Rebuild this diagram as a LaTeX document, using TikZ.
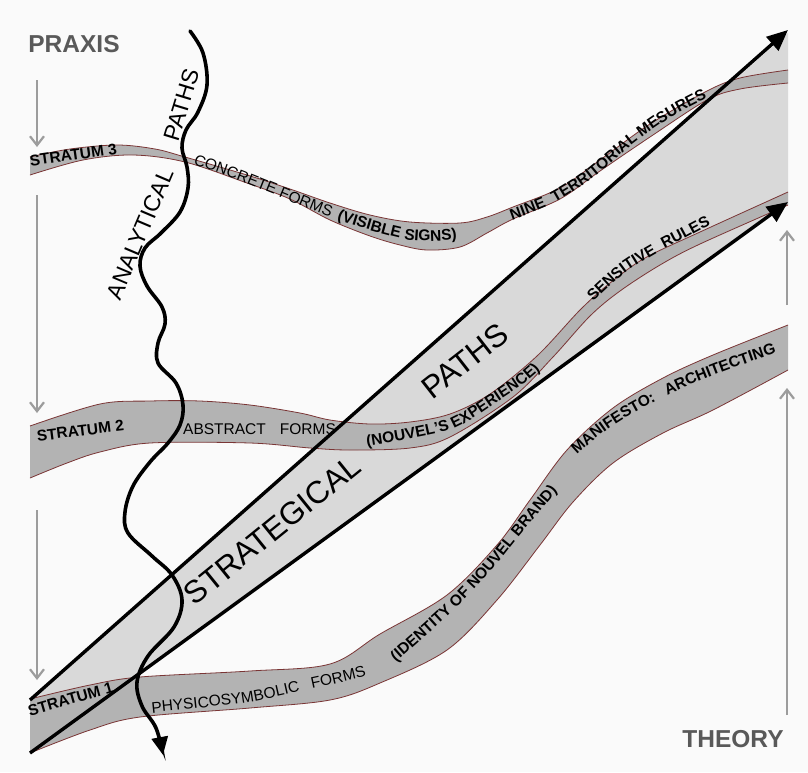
\documentclass[tikz,border=0pt]{standalone}
\usepackage{fontspec}
\setmainfont{Liberation Sans}
\usetikzlibrary{arrows.meta,decorations.text}
\definecolor{bg}{HTML}{FAFAFA}
\definecolor{bandgray}{HTML}{B3B3B3}
\definecolor{stratfill}{HTML}{D9D9D9}
\definecolor{bandedge}{HTML}{7A3535}
\definecolor{sidegray}{HTML}{9C9C9C}
\definecolor{titlegray}{HTML}{595959}
\newcommand\bandfont{\fontsize{15.5}{18}\selectfont}
\newcommand\drawband[2]{%
  \fill[bandgray] plot[smooth,tension=0.55] coordinates {#1} -- plot[smooth,tension=0.55] coordinates {#2} -- cycle;
  \draw[bandline] plot[smooth,tension=0.55] coordinates {#1};
  \draw[bandline] plot[smooth,tension=0.55] coordinates {#2};}
\begin{document}
\begin{tikzpicture}[x=1pt,y=-1pt,
  bandline/.style={draw=bandedge,line width=0.8pt},
  bigarrow/.style={line width=3.4pt,-{Triangle[length=21pt,width=18pt]}},
  wavy/.style={line width=3.6pt,line cap=round,-{Triangle[length=18pt,width=16pt]}},
  sidearrow/.style={draw=sidegray,line width=2.8pt,-{Straight Barb[length=9pt,width=14pt,line width=2.2pt]}},
  title/.style={font=\fontsize{24.5}{28}\selectfont\bfseries,text=titlegray,inner sep=0pt},
  stratum/.style={font=\bandfont\bfseries,inner sep=0pt,anchor=base},
  analytic/.style={font=\fontsize{23}{27}\selectfont,inner sep=0pt},
  strat/.style={font=\fontsize{31.5}{36}\selectfont,inner sep=0pt},
  curvelabel/.style={decorate,decoration={text along path,text align=left,text={#1}}}
]
\useasboundingbox (0,0) rectangle (808,772);
\fill[bg] (0,0) rectangle (808,772);

% strategic strip
\coordinate (su0) at (30,700);
\coordinate (su1) at (788,30);
\coordinate (sl0) at (30,753);
\coordinate (sl1) at (788,202);
\fill[stratfill] (su0) -- (788,33) -- (788,204) -- (sl0) -- cycle;

% stratum 3
\drawband{(30,157) (70,149) (117,145) (155,149) (185,157) (247,175) (290,189) (330,203) (370,215) (410,222) (460,223) (487,217) (513,207) (560,188) (600,160) (650,124) (707,91) (740,78) (788,70)}
{(788,83) (740,89) (707,100) (650,137) (600,171) (560,199) (513,219) (487,233) (460,247) (427,250) (400,245) (370,236) (330,220) (290,199) (247,183) (185,162) (133,155) (83,160) (30,175)}

% stratum 2
\drawband{(30,426) (100,404) (150,401) (200,401) (250,405) (300,413) (330,420) (370,424) (410,422) (450,414) (490,394) (537,356) (580,310) (610,283) (645,258) (700,232) (788,192)}
{(788,205) (700,244) (660,265) (620,291) (590,316) (553,357) (513,397) (450,437) (410,448) (350,450) (310,448) (250,443) (150,443) (100,452) (67,463) (30,478)}

% stratum 1
\drawband{(30,699) (90,685) (140,677) (250,671) (330,664) (380,634) (447,595) (497,545) (530,500) (567,450) (613,408) (663,378) (713,355) (788,325)}
{(788,370) (713,410) (663,433) (613,463) (573,502) (540,545) (497,600) (447,650) (380,683) (330,700) (250,708) (140,717) (90,730) (30,753)}

% strategic arrows
\draw[bigarrow] (su0) -- (su1);
\draw[bigarrow] (sl0) -- (sl1);

% band labels
\node[stratum,rotate=8] (st3) at (74,160) {STRATUM 3};
\node[stratum,rotate=7] (st2) at (81,436) {STRATUM 2};
\node[stratum,rotate=16] (st1) at (72,704) {STRATUM 1};
\node[font=\bandfont,inner sep=0pt,anchor=base west] (abs) at (183,434) {ABSTRACT\hspace{14pt}FORMS};

\path[curvelabel={|\bandfont\mdseries|CONCRETE FORMS{\hspace{7pt}}|\bandfont\bfseries|(VISIBLE SIGNS)}]
  plot[smooth] coordinates {(193,164) (232,178) (270,193) (335,219) (410,240) (470,238) (500,230) (530,215)};
\path[curvelabel={|\bandfont\bfseries|NINE{\hspace{5pt}} TERRITORIAL MESURES}]
  plot[smooth] coordinates {(512,220) (550,205) (590,180) (633,144) (670,118) (708,98) (740,86) (770,78)};
\path[curvelabel={|\bandfont\bfseries|(NOUVEL’S EXPERIENCE)}]
  plot[smooth] coordinates {(367,446) (405,440) (447,431) (470,420) (500,400) (525,383) (545,365) (565,340) (580,318)};
\path[curvelabel={|\bandfont\bfseries|SENSITIVE{\hspace{4pt}} RULES}]
  plot[smooth] coordinates {(593,302) (625,273) (657,253) (685,238) (710,225) (740,213) (770,203)};
\path[curvelabel={|\bandfont\mdseries|PHYSICOSYMBOLIC{\hspace{8pt}} FORMS}]
  plot[smooth] coordinates {(152,713) (200,708) (250,702) (293,693) (330,685) (363,677) (400,665) (430,650)};
\path[curvelabel={|\bandfont\bfseries|(IDENTITY OF NOUVEL BRAND)}]
  plot[smooth] coordinates {(396,662) (430,632) (458,606) (490,572) (515,541) (540,511) (565,482) (590,455) (610,435)};
\path[curvelabel={|\bandfont\bfseries|MANIFESTO:{\hspace{8pt}} ARCHITECTING}]
  plot[smooth] coordinates {(577,455) (600,435) (625,418) (658,400) (690,385) (720,373) (750,362) (780,352) (805,345)};

% strategical paths text
\node[strat,rotate=39] (stratA) at (272,530) {STRATEGICAL};
\node[strat,rotate=38] (stratB) at (465,361) {PATHS};

% analytical path
\draw[wavy] plot[smooth,tension=0.6] coordinates {(190,31) (203,53) (207,85) (198,112) (186,130) (182,148) (187,167) (188,188) (180,212) (161,233) (145,248) (140,266) (147,286) (162,307) (165,324) (158,343) (158,363) (176,383) (183,405) (180,425) (168,443) (150,462) (133,486) (125,512) (128,533) (152,556) (172,575) (182,600) (174,627) (148,656) (137,682) (142,706) (156,728) (163,755)};
\node[analytic,rotate=67] (anA) at (140,234) {ANALYTICAL};
\node[analytic,rotate=73] (anB) at (182,105) {PATHS};

% side arrows
\coordinate (la1) at (37,80);  \coordinate (lb1) at (37,147);
\coordinate (la2) at (37,195); \coordinate (lb2) at (37,413);
\coordinate (la3) at (37,510); \coordinate (lb3) at (37,680);
\coordinate (ra1) at (787,715); \coordinate (rb1) at (787,388);
\coordinate (ra2) at (787,305); \coordinate (rb2) at (787,230);
\draw[sidearrow] (la1) -- (lb1);
\draw[sidearrow] (la2) -- (lb2);
\draw[sidearrow] (la3) -- (lb3);
\draw[sidearrow] (ra1) -- (rb1);
\draw[sidearrow] (ra2) -- (rb2);

\node[title] (praxis) at (74,44) {PRAXIS};
\node[title] (theory) at (733,739) {THEORY};
\end{tikzpicture}
\end{document}
